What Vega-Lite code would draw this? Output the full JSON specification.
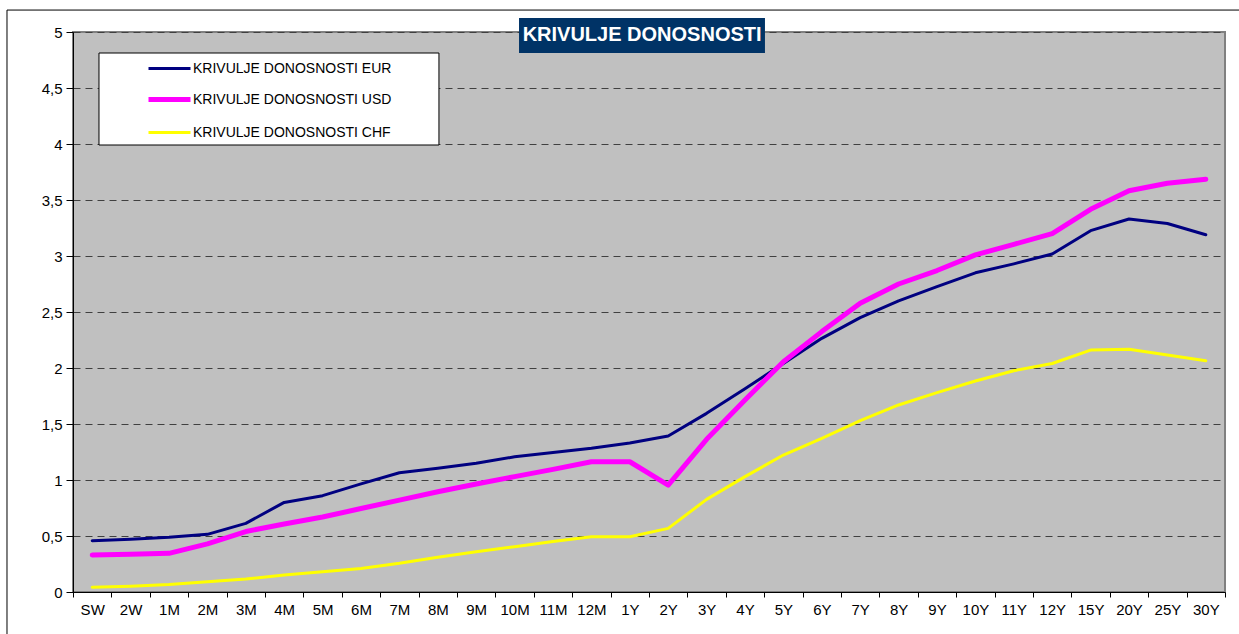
{
  "$schema": "https://vega.github.io/schema/vega-lite/v6.json",
  "width": 1152,
  "height": 560,
  "autosize": {"type": "none"},
  "padding": {"left": 73, "top": 32, "right": 14, "bottom": 42},
  "background": "#FFFFFF",
  "config": {
    "font": "Liberation Sans",
    "view": {"fill": "#C0C0C0", "stroke": "#808080", "strokeWidth": 2},
    "axis": {"labelFont": "Liberation Sans", "labelFontSize": 15, "labelColor": "#000000", "domainColor": "#000000", "tickColor": "#000000", "title": null}
  },
  "datasets": {
    "curves": [
      {"t": "SW", "s": "KRIVULJE DONOSNOSTI EUR", "v": 0.458}, {"t": "2W", "s": "KRIVULJE DONOSNOSTI EUR", "v": 0.47}, {"t": "1M", "s": "KRIVULJE DONOSNOSTI EUR", "v": 0.488}, {"t": "2M", "s": "KRIVULJE DONOSNOSTI EUR", "v": 0.515}, {"t": "3M", "s": "KRIVULJE DONOSNOSTI EUR", "v": 0.613}, {"t": "4M", "s": "KRIVULJE DONOSNOSTI EUR", "v": 0.8}, {"t": "5M", "s": "KRIVULJE DONOSNOSTI EUR", "v": 0.86}, {"t": "6M", "s": "KRIVULJE DONOSNOSTI EUR", "v": 0.965}, {"t": "7M", "s": "KRIVULJE DONOSNOSTI EUR", "v": 1.065}, {"t": "8M", "s": "KRIVULJE DONOSNOSTI EUR", "v": 1.104}, {"t": "9M", "s": "KRIVULJE DONOSNOSTI EUR", "v": 1.149}, {"t": "10M", "s": "KRIVULJE DONOSNOSTI EUR", "v": 1.207}, {"t": "11M", "s": "KRIVULJE DONOSNOSTI EUR", "v": 1.245}, {"t": "12M", "s": "KRIVULJE DONOSNOSTI EUR", "v": 1.283}, {"t": "1Y", "s": "KRIVULJE DONOSNOSTI EUR", "v": 1.33}, {"t": "2Y", "s": "KRIVULJE DONOSNOSTI EUR", "v": 1.393}, {"t": "3Y", "s": "KRIVULJE DONOSNOSTI EUR", "v": 1.595}, {"t": "4Y", "s": "KRIVULJE DONOSNOSTI EUR", "v": 1.815}, {"t": "5Y", "s": "KRIVULJE DONOSNOSTI EUR", "v": 2.04}, {"t": "6Y", "s": "KRIVULJE DONOSNOSTI EUR", "v": 2.265}, {"t": "7Y", "s": "KRIVULJE DONOSNOSTI EUR", "v": 2.45}, {"t": "8Y", "s": "KRIVULJE DONOSNOSTI EUR", "v": 2.6}, {"t": "9Y", "s": "KRIVULJE DONOSNOSTI EUR", "v": 2.726}, {"t": "10Y", "s": "KRIVULJE DONOSNOSTI EUR", "v": 2.85}, {"t": "11Y", "s": "KRIVULJE DONOSNOSTI EUR", "v": 2.93}, {"t": "12Y", "s": "KRIVULJE DONOSNOSTI EUR", "v": 3.018}, {"t": "15Y", "s": "KRIVULJE DONOSNOSTI EUR", "v": 3.226}, {"t": "20Y", "s": "KRIVULJE DONOSNOSTI EUR", "v": 3.33}, {"t": "25Y", "s": "KRIVULJE DONOSNOSTI EUR", "v": 3.29}, {"t": "30Y", "s": "KRIVULJE DONOSNOSTI EUR", "v": 3.19},
      {"t": "SW", "s": "KRIVULJE DONOSNOSTI USD", "v": 0.33}, {"t": "2W", "s": "KRIVULJE DONOSNOSTI USD", "v": 0.337}, {"t": "1M", "s": "KRIVULJE DONOSNOSTI USD", "v": 0.345}, {"t": "2M", "s": "KRIVULJE DONOSNOSTI USD", "v": 0.43}, {"t": "3M", "s": "KRIVULJE DONOSNOSTI USD", "v": 0.54}, {"t": "4M", "s": "KRIVULJE DONOSNOSTI USD", "v": 0.607}, {"t": "5M", "s": "KRIVULJE DONOSNOSTI USD", "v": 0.67}, {"t": "6M", "s": "KRIVULJE DONOSNOSTI USD", "v": 0.745}, {"t": "7M", "s": "KRIVULJE DONOSNOSTI USD", "v": 0.82}, {"t": "8M", "s": "KRIVULJE DONOSNOSTI USD", "v": 0.895}, {"t": "9M", "s": "KRIVULJE DONOSNOSTI USD", "v": 0.964}, {"t": "10M", "s": "KRIVULJE DONOSNOSTI USD", "v": 1.03}, {"t": "11M", "s": "KRIVULJE DONOSNOSTI USD", "v": 1.095}, {"t": "12M", "s": "KRIVULJE DONOSNOSTI USD", "v": 1.163}, {"t": "1Y", "s": "KRIVULJE DONOSNOSTI USD", "v": 1.163}, {"t": "2Y", "s": "KRIVULJE DONOSNOSTI USD", "v": 0.955}, {"t": "3Y", "s": "KRIVULJE DONOSNOSTI USD", "v": 1.363}, {"t": "4Y", "s": "KRIVULJE DONOSNOSTI USD", "v": 1.714}, {"t": "5Y", "s": "KRIVULJE DONOSNOSTI USD", "v": 2.056}, {"t": "6Y", "s": "KRIVULJE DONOSNOSTI USD", "v": 2.325}, {"t": "7Y", "s": "KRIVULJE DONOSNOSTI USD", "v": 2.578}, {"t": "8Y", "s": "KRIVULJE DONOSNOSTI USD", "v": 2.75}, {"t": "9Y", "s": "KRIVULJE DONOSNOSTI USD", "v": 2.87}, {"t": "10Y", "s": "KRIVULJE DONOSNOSTI USD", "v": 3.01}, {"t": "11Y", "s": "KRIVULJE DONOSNOSTI USD", "v": 3.104}, {"t": "12Y", "s": "KRIVULJE DONOSNOSTI USD", "v": 3.2}, {"t": "15Y", "s": "KRIVULJE DONOSNOSTI USD", "v": 3.417}, {"t": "20Y", "s": "KRIVULJE DONOSNOSTI USD", "v": 3.583}, {"t": "25Y", "s": "KRIVULJE DONOSNOSTI USD", "v": 3.649}, {"t": "30Y", "s": "KRIVULJE DONOSNOSTI USD", "v": 3.685},
      {"t": "SW", "s": "KRIVULJE DONOSNOSTI CHF", "v": 0.042}, {"t": "2W", "s": "KRIVULJE DONOSNOSTI CHF", "v": 0.052}, {"t": "1M", "s": "KRIVULJE DONOSNOSTI CHF", "v": 0.068}, {"t": "2M", "s": "KRIVULJE DONOSNOSTI CHF", "v": 0.092}, {"t": "3M", "s": "KRIVULJE DONOSNOSTI CHF", "v": 0.116}, {"t": "4M", "s": "KRIVULJE DONOSNOSTI CHF", "v": 0.152}, {"t": "5M", "s": "KRIVULJE DONOSNOSTI CHF", "v": 0.18}, {"t": "6M", "s": "KRIVULJE DONOSNOSTI CHF", "v": 0.21}, {"t": "7M", "s": "KRIVULJE DONOSNOSTI CHF", "v": 0.256}, {"t": "8M", "s": "KRIVULJE DONOSNOSTI CHF", "v": 0.31}, {"t": "9M", "s": "KRIVULJE DONOSNOSTI CHF", "v": 0.36}, {"t": "10M", "s": "KRIVULJE DONOSNOSTI CHF", "v": 0.405}, {"t": "11M", "s": "KRIVULJE DONOSNOSTI CHF", "v": 0.45}, {"t": "12M", "s": "KRIVULJE DONOSNOSTI CHF", "v": 0.494}, {"t": "1Y", "s": "KRIVULJE DONOSNOSTI CHF", "v": 0.494}, {"t": "2Y", "s": "KRIVULJE DONOSNOSTI CHF", "v": 0.568}, {"t": "3Y", "s": "KRIVULJE DONOSNOSTI CHF", "v": 0.827}, {"t": "4Y", "s": "KRIVULJE DONOSNOSTI CHF", "v": 1.03}, {"t": "5Y", "s": "KRIVULJE DONOSNOSTI CHF", "v": 1.223}, {"t": "6Y", "s": "KRIVULJE DONOSNOSTI CHF", "v": 1.372}, {"t": "7Y", "s": "KRIVULJE DONOSNOSTI CHF", "v": 1.53}, {"t": "8Y", "s": "KRIVULJE DONOSNOSTI CHF", "v": 1.67}, {"t": "9Y", "s": "KRIVULJE DONOSNOSTI CHF", "v": 1.78}, {"t": "10Y", "s": "KRIVULJE DONOSNOSTI CHF", "v": 1.884}, {"t": "11Y", "s": "KRIVULJE DONOSNOSTI CHF", "v": 1.976}, {"t": "12Y", "s": "KRIVULJE DONOSNOSTI CHF", "v": 2.04}, {"t": "15Y", "s": "KRIVULJE DONOSNOSTI CHF", "v": 2.16}, {"t": "20Y", "s": "KRIVULJE DONOSNOSTI CHF", "v": 2.167}, {"t": "25Y", "s": "KRIVULJE DONOSNOSTI CHF", "v": 2.116}, {"t": "30Y", "s": "KRIVULJE DONOSNOSTI CHF", "v": 2.065}
    ],
    "one": [{"k": 1}]
  },
  "layer": [
    {
      "data": {"name": "one"},
      "mark": {"type": "rect", "fill": null, "stroke": "#000000", "strokeWidth": 1},
      "encoding": {
        "x": {"datum": -1.719, "type": "quantitative", "scale": {"domain": [0, 30], "nice": false, "zero": false}, "axis": null},
        "x2": {"datum": 31},
        "y": {"datum": 5.196, "type": "quantitative", "scale": {"domain": [0, 5], "nice": false}, "axis": {"values": [0, 0.5, 1, 1.5, 2, 2.5, 3, 3.5, 4, 4.5, 5], "format": "~g", "labelExpr": "replace(datum.label, '.', ',')", "labelFontSize": 15, "tickSize": 7, "labelPadding": 4, "grid": true, "gridColor": "#404040", "gridDash": [7, 5], "gridWidth": 1, "domainWidth": 1}},
        "y2": {"datum": -1}
      }
    },
    {
      "data": {"name": "one"},
      "mark": {"type": "rect", "fill": "#FFFFFF", "stroke": "#000000", "strokeWidth": 1},
      "encoding": {
        "x": {"datum": 0.677, "type": "quantitative", "scale": {"domain": [0, 30], "nice": false, "zero": false}, "axis": null},
        "x2": {"datum": 9.53},
        "y": {"datum": 4.8125, "type": "quantitative"},
        "y2": {"datum": 3.991}
      }
    },
    {
      "data": {"name": "curves"},
      "mark": {"type": "line", "strokeCap": "round", "strokeJoin": "round"},
      "encoding": {
        "x": {"field": "t", "type": "ordinal", "sort": null,
          "scale": {"type": "band", "paddingInner": 0, "paddingOuter": 0, "domain": ["SW","2W","1M","2M","3M","4M","5M","6M","7M","8M","9M","10M","11M","12M","1Y","2Y","3Y","4Y","5Y","6Y","7Y","8Y","9Y","10Y","11Y","12Y","15Y","20Y","25Y","30Y"]},
          "axis": {"tickBand": "extent", "tickSize": 5, "labelPadding": 5, "labelAngle": 0, "labelFontSize": 15, "domainWidth": 1, "grid": false}},
        "y": {"field": "v", "type": "quantitative"},
        "color": {"field": "s", "type": "nominal", "sort": null,
          "scale": {"domain": ["KRIVULJE DONOSNOSTI EUR", "KRIVULJE DONOSNOSTI USD", "KRIVULJE DONOSNOSTI CHF"], "range": ["#000080", "#FF00FF", "#FFFF00"]},
          "legend": {"title": null, "orient": "none", "legendX": 73, "legendY": 14, "symbolType": "stroke", "symbolSize": 1764, "labelFont": "Liberation Sans", "labelFontSize": 14, "labelColor": "#000000", "labelOffset": 0, "labelLimit": 500, "rowPadding": 0, "padding": 0}},
        "strokeWidth": {"field": "s", "type": "nominal", "sort": null,
          "scale": {"type": "ordinal", "domain": ["KRIVULJE DONOSNOSTI EUR", "KRIVULJE DONOSNOSTI USD", "KRIVULJE DONOSNOSTI CHF"], "range": [3, 5, 3]},
          "legend": {"title": null, "orient": "none", "legendX": 73, "legendY": 14, "symbolType": "stroke", "symbolSize": 1764, "labelFont": "Liberation Sans", "labelFontSize": 14, "labelColor": "#000000", "labelOffset": 0, "labelLimit": 500, "rowPadding": 0, "padding": 0}}
      }
    },
    {
      "data": {"name": "one"},
      "mark": {"type": "rect", "fill": "#003366", "stroke": null},
      "encoding": {
        "x": {"datum": 11.615, "type": "quantitative", "scale": {"domain": [0, 30], "nice": false, "zero": false}, "axis": null},
        "x2": {"datum": 18.02},
        "y": {"datum": 5.125, "type": "quantitative"},
        "y2": {"datum": 4.8125}
      }
    },
    {
      "data": {"name": "one"},
      "mark": {"type": "text", "text": "KRIVULJE DONOSNOSTI", "font": "Liberation Sans", "fontWeight": "bold", "fontSize": 20, "color": "#FFFFFF", "align": "center", "baseline": "middle"},
      "encoding": {
        "x": {"datum": 14.82, "type": "quantitative", "scale": {"domain": [0, 30], "nice": false, "zero": false}, "axis": null},
        "y": {"datum": 4.969, "type": "quantitative"}
      }
    }
  ],
  "resolve": {"scale": {"x": "independent"}}
}
